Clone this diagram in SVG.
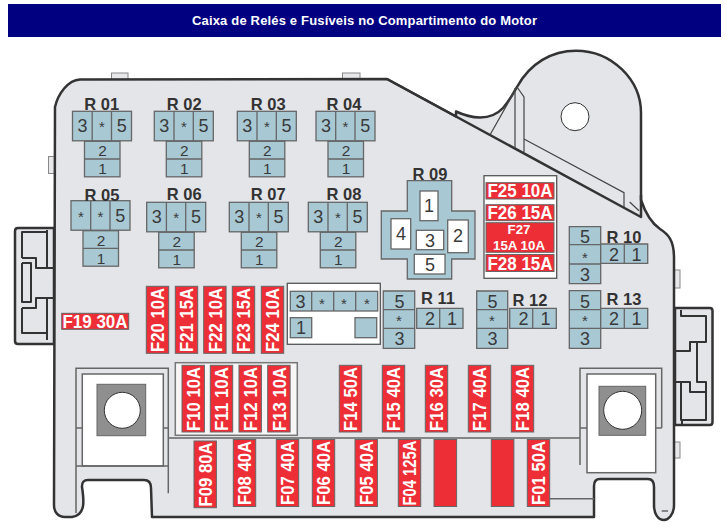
<svg xmlns="http://www.w3.org/2000/svg" width="727" height="530" viewBox="0 0 727 530">
<style>
text{font-family:"Liberation Sans",Arial,sans-serif}
.body{fill:#e4e5e9;stroke:#333;stroke-width:2.5;stroke-linejoin:round}
.edge{fill:none;stroke:#333;stroke-width:2.5;stroke-linejoin:round}
.thin{fill:none;stroke:#444;stroke-width:1}
.frame{fill:none;stroke:#666;stroke-width:1.5}
.tab{fill:#e8e8ea;stroke:#888;stroke-width:1}
.c{fill:#a8c8d4;stroke:#666;stroke-width:1.3}
.w{fill:#fff;stroke:#666;stroke-width:1.3}
.d{font-size:18px;fill:#3a3a3a;text-anchor:middle}
.d2{font-size:15.4px;fill:#3a3a3a;text-anchor:middle}
.s{font-size:15px;fill:#3a3a3a;text-anchor:middle}
.rl{font-size:16.5px;font-weight:bold;fill:#333;text-anchor:middle}
.f{fill:#ee2e36;stroke:#666;stroke-width:1}
.ft{font-size:18px;font-weight:bold;fill:#fff;text-anchor:middle}
.fv{font-size:18.5px;font-weight:bold;fill:#fff;text-anchor:middle}
.sq{fill:#8f8f8f;stroke:#666;stroke-width:1}
.hole{fill:#fff;stroke:#333;stroke-width:1}
.pw{fill:#fff;stroke:#555;stroke-width:1.3}
</style>
<defs>
<g id="relay-cells">
<rect class="c" x="0" y="0" width="59" height="29.5"/>
<path class="c" d="M19.7 0V29.5M39 0V29.5"/>
<rect class="c" x="12" y="30" width="35.5" height="35.5"/>
<path class="c" d="M12 47.7H47.5"/>
</g>
</defs>
<rect id="title-bar" x="8" y="4" width="713" height="33" fill="#000080"/>
<text id="title" x="364.5" y="25" font-size="13" font-weight="bold" fill="#fff" text-anchor="middle" textLength="345" lengthAdjust="spacing">Caixa de Relés e Fusíveis no Compartimento do Motor</text>

<g id="housing">
<rect class="tab" x="111.5" y="73" width="16.5" height="7"/>
<rect class="tab" x="342.5" y="73" width="17.5" height="7"/>
<rect class="tab" x="48.5" y="156.5" width="6" height="17"/>
<rect class="tab" x="674" y="270" width="6" height="18"/>
<rect class="tab" x="674" y="442" width="6" height="16"/>
<path class="body" d="M54 228H18Q15 228 15 231V341Q15 344 18 344H54Z"/>
<path class="body" d="M675 308H710Q712.500 308 712.500 311V422Q712.500 425 710 425H675Z"/>
<path class="body" d="M55 107C58 94 68 80 80 79.500L387 79L456 116.500L456 111.500C470 118 490 122 503 108C510 100 512 95 517 87C530 63 552 50.700 576 50.700C612 50.700 641 80 641 113V200C645 212 650 222 660 229C668 234 674 240 674 258V505C674 515 668 520 664 520C658 520 654 514 654 505V487Q654 479 648 479H600Q594 479 594 486V517H152L151 488Q151 480 144 480H88Q81.700 480 82 487C84 500 86 515 72 517H65C58 517 54 512 54 505Z"/>
<path class="edge" d="M387 79L641 217V195"/>
<path class="edge" d="M22 258V232H47M47 230V268M22 258H36V268H54M22 263H31V302H22V263M22 308H36V298H54M22 308V333H46M47 298V340" style="stroke-width:2"/>
<path class="edge" d="M681 310V316H706V342H690V351H675M697 343V382H706V392M675 382H690V392H706V420H681V382M682 420V424" style="stroke-width:2"/>
<path class="thin" d="M517 87L490.500 134M515 88V148M517 87L524 97V152M524 139L624 192.700V207M629.700 202L639 210.700" style="stroke-width:1.200"/>
<circle class="hole" cx="575" cy="116.700" r="14"/>
<path class="frame" d="M168 438H580M550 498.700H594"/>
</g>

<g id="mount-left">
<rect x="82.300" y="374" width="81" height="92" fill="#fff" stroke="#666" stroke-width="1.500"/>
<path class="frame" d="M76 513V368.300H168.300V493.300M76 428H82.300M163.300 428H168.300M76 466H168.300"/>
<rect class="sq" x="97" y="384.300" width="48.700" height="51.400"/>
<circle class="hole" cx="122.300" cy="410.300" r="18"/>
</g>
<g id="mount-right">
<rect x="587" y="374" width="68.700" height="98.700" fill="#fff" stroke="#666" stroke-width="1.500"/>
<path class="frame" d="M580 465V368.300H661.700V428M580 428H587M655.700 428H661.700M661.700 511H668"/>
<rect class="sq" x="599" y="386.300" width="46.700" height="49"/>
<circle class="hole" cx="622.700" cy="410.300" r="19"/>
</g>

<g id="R01" transform="translate(72.500 111.300)"><use href="#relay-cells"/><text class="rl" x="29.200" y="-1.300">R 01</text><text class="d" x="10" y="21">3</text><text class="s" x="29.500" y="21">*</text><text class="d" x="49.300" y="21">5</text><text class="d2" x="30" y="45">2</text><text class="d2" x="30" y="63">1</text></g>
<g id="R02" transform="translate(154.300 111.300)"><use href="#relay-cells"/><text class="rl" x="30" y="-1.300">R 02</text><text class="d" x="10" y="21">3</text><text class="s" x="29.500" y="21">*</text><text class="d" x="49.300" y="21">5</text><text class="d2" x="30" y="45">2</text><text class="d2" x="30" y="63">1</text></g>
<g id="R03" transform="translate(237.300 111.300)"><use href="#relay-cells"/><text class="rl" x="31" y="-1.300">R 03</text><text class="d" x="10" y="21">3</text><text class="s" x="29.500" y="21">*</text><text class="d" x="49.300" y="21">5</text><text class="d2" x="30" y="45">2</text><text class="d2" x="30" y="63">1</text></g>
<g id="R04" transform="translate(316 111.300)"><use href="#relay-cells"/><text class="rl" x="28" y="-1.300">R 04</text><text class="d" x="10" y="21">3</text><text class="s" x="29.500" y="21">*</text><text class="d" x="49.300" y="21">5</text><text class="d2" x="30" y="45">2</text><text class="d2" x="30" y="63">1</text></g>
<g id="R05" transform="translate(71 200.700)"><use href="#relay-cells"/><text class="rl" x="31" y="0.300">R 05</text><text class="s" x="10" y="21">*</text><text class="s" x="29.500" y="21">*</text><text class="d" x="49.300" y="21">5</text><text class="d2" x="30" y="45">2</text><text class="d2" x="30" y="63">1</text></g>
<g id="R06" transform="translate(146.700 202.300)"><use href="#relay-cells"/><text class="rl" x="37.600" y="-2.300">R 06</text><text class="d" x="10" y="21">3</text><text class="s" x="29.500" y="21">*</text><text class="d" x="49.300" y="21">5</text><text class="d2" x="30" y="45">2</text><text class="d2" x="30" y="63">1</text></g>
<g id="R07" transform="translate(229.300 202.300)"><use href="#relay-cells"/><text class="rl" x="39" y="-2.300">R 07</text><text class="d" x="10" y="21">3</text><text class="s" x="29.500" y="21">*</text><text class="d" x="49.300" y="21">5</text><text class="d2" x="30" y="45">2</text><text class="d2" x="30" y="63">1</text></g>
<g id="R08" transform="translate(308.300 202.300)"><use href="#relay-cells"/><text class="rl" x="35.700" y="-2.300">R 08</text><text class="d" x="10" y="21">3</text><text class="s" x="29.500" y="21">*</text><text class="d" x="49.300" y="21">5</text><text class="d2" x="30" y="45">2</text><text class="d2" x="30" y="63">1</text></g>

<g id="R09">
<text class="rl" x="430" y="180">R 09</text>
<path class="c" d="M407.300 180.700H451.700V211H475V259H451.700V279H407.300V259H381.300V211H407.300Z"/>
<rect class="w" x="420" y="191" width="18" height="29.700"/>
<rect class="w" x="391" y="218.700" width="19.700" height="30.300"/>
<rect class="w" x="447.700" y="220" width="20.600" height="32.700"/>
<rect class="w" x="416.300" y="230.300" width="27.400" height="19.400"/>
<rect class="w" x="414.300" y="254.300" width="30.700" height="19.700"/>
<text class="d" x="429" y="212">1</text><text class="d" x="401" y="240">4</text><text class="d" x="458" y="242">2</text><text class="d" x="430" y="247">3</text><text class="d" x="430" y="271">5</text>
</g>

<g id="R10">
<text class="rl" x="624" y="242.700">R 10</text>
<path class="c" d="M569.300 226.700H600.700V283.700H569.300Z"/><path class="c" d="M569.300 244.700H600.700M569.300 264H600.700"/>
<path class="c" d="M600.700 244H647.700V263.300H600.700Z"/><path class="c" d="M624.300 244V263.300"/>
<text class="d" x="585" y="243">5</text><text class="s" x="585" y="263">*</text><text class="d" x="585" y="281">3</text><text class="d" x="614" y="260.500">2</text><text class="d" x="636.500" y="261">1</text>
</g>
<g id="F-R-panel">
<rect class="pw" x="287.300" y="283.300" width="93" height="61"/>
<rect class="c" x="290.300" y="291.300" width="87.400" height="19.700"/><path class="c" d="M311.700 291.300V311M333.700 291.300V311M355.700 291.300V311"/>
<rect class="c" x="290.300" y="317.700" width="21.400" height="20"/><rect class="c" x="355" y="317.700" width="21.700" height="20"/>
<text class="d" x="300.500" y="308">3</text><text class="s" x="322" y="309">*</text><text class="s" x="344" y="309">*</text><text class="s" x="367" y="309">*</text><text class="d" x="301" y="334">1</text>
</g>
<g id="R11">
<text class="rl" x="438" y="304.300">R 11</text>
<path class="c" d="M383.300 291H414.700V348.300H383.300Z"/><path class="c" d="M383.300 309.700H414.700M383.300 328.300H414.700"/>
<path class="c" d="M416.700 308.300H463V328.300H416.700Z"/><path class="c" d="M439.700 308.300V328.300"/>
<text class="d" x="399.500" y="307.500">5</text><text class="s" x="399" y="326">*</text><text class="d" x="399.500" y="344.500">3</text><text class="d" x="430" y="325">2</text><text class="d" x="452" y="325">1</text>
</g>
<g id="R12">
<text class="rl" x="530" y="305.700">R 12</text>
<path class="c" d="M476.700 291H507.700V348.300H476.700Z"/><path class="c" d="M476.700 309.700H507.700M476.700 328.300H507.700"/>
<path class="c" d="M509.700 308.300H556.300V328.300H509.700Z"/><path class="c" d="M532.700 308.300V328.300"/>
<text class="d" x="492.500" y="307.500">5</text><text class="s" x="492" y="326">*</text><text class="d" x="492.500" y="344.500">3</text><text class="d" x="523.500" y="325">2</text><text class="d" x="545.500" y="325">1</text>
</g>
<g id="R13">
<text class="rl" x="624" y="305">R 13</text>
<path class="c" d="M569.300 290.700H600.700V348.300H569.300Z"/><path class="c" d="M569.300 309.700H600.700M569.300 328.300H600.700"/>
<path class="c" d="M600.700 308.300H647.700V328.300H600.700Z"/><path class="c" d="M624.300 308.300V328.300"/>
<text class="d" x="585" y="307.500">5</text><text class="s" x="585" y="326">*</text><text class="d" x="585" y="344.500">3</text><text class="d" x="614" y="325">2</text><text class="d" x="636.500" y="325">1</text>
</g>

<g id="fuse-panel-top">
<rect class="pw" x="484" y="175.700" width="72.700" height="102.600" stroke="#888"/>
<g id="F25"><rect class="f" x="486" y="182.700" width="68" height="16.300"/><text class="ft" x="520" y="197" textLength="65" lengthAdjust="spacingAndGlyphs">F25 10A</text></g>
<g id="F26"><rect class="f" x="486" y="204.700" width="68" height="16"/><text class="ft" x="520" y="219" textLength="65" lengthAdjust="spacingAndGlyphs">F26 15A</text></g>
<g id="F27"><rect class="f" x="486" y="222.700" width="68" height="29.600"/><text x="519" y="234" font-size="13.300" font-weight="bold" fill="#fff" text-anchor="middle">F27</text><text x="519" y="250" font-size="13.300" font-weight="bold" fill="#fff" text-anchor="middle">15A 10A</text></g>
<g id="F28"><rect class="f" x="486" y="254.500" width="68" height="17"/><text class="ft" x="520" y="269.500" textLength="65" lengthAdjust="spacingAndGlyphs">F28 15A</text></g>
</g>

<g id="F19"><rect class="f" x="61.700" y="313.300" width="67" height="16"/><text class="ft" x="95" y="327.500" textLength="65" lengthAdjust="spacingAndGlyphs">F19 30A</text></g>
<g id="F20"><rect class="f" x="146.300" y="286.300" width="22.400" height="67"/><text class="fv" transform="translate(164 320) rotate(-90)" textLength="64" lengthAdjust="spacingAndGlyphs">F20 10A</text></g>
<g id="F21"><rect class="f" x="175.300" y="286.300" width="22.400" height="67"/><text class="fv" transform="translate(193 320) rotate(-90)" textLength="64" lengthAdjust="spacingAndGlyphs">F21 15A</text></g>
<g id="F22"><rect class="f" x="203.700" y="286.300" width="22.400" height="67"/><text class="fv" transform="translate(221.500 320) rotate(-90)" textLength="64" lengthAdjust="spacingAndGlyphs">F22 10A</text></g>
<g id="F23"><rect class="f" x="232.300" y="286.300" width="22.400" height="67"/><text class="fv" transform="translate(250 320) rotate(-90)" textLength="64" lengthAdjust="spacingAndGlyphs">F23 15A</text></g>
<g id="F24"><rect class="f" x="261.300" y="286.300" width="22.400" height="67"/><text class="fv" transform="translate(279 320) rotate(-90)" textLength="64" lengthAdjust="spacingAndGlyphs">F24 10A</text></g>

<rect id="fuse-panel-mid" x="175.300" y="362.700" width="122" height="72.600" fill="#f6f6f6" stroke="#777" stroke-width="1.500"/>
<g id="F10"><rect class="f" x="182" y="365.300" width="22.400" height="66.700"/><text class="fv" transform="translate(199.800 399) rotate(-90)" textLength="64" lengthAdjust="spacingAndGlyphs">F10 10A</text></g>
<g id="F11"><rect class="f" x="210.300" y="365.300" width="22.400" height="66.700"/><text class="fv" transform="translate(228.100 399) rotate(-90)" textLength="64" lengthAdjust="spacingAndGlyphs">F11 10A</text></g>
<g id="F12"><rect class="f" x="239" y="365.300" width="22.400" height="66.700"/><text class="fv" transform="translate(256.800 399) rotate(-90)" textLength="64" lengthAdjust="spacingAndGlyphs">F12 10A</text></g>
<g id="F13"><rect class="f" x="267.700" y="365.300" width="22.400" height="66.700"/><text class="fv" transform="translate(285.500 399) rotate(-90)" textLength="64" lengthAdjust="spacingAndGlyphs">F13 10A</text></g>
<g id="F14"><rect class="f" x="339.300" y="365.300" width="22.400" height="66.700"/><text class="fv" transform="translate(357.100 399) rotate(-90)" textLength="64" lengthAdjust="spacingAndGlyphs">F14 50A</text></g>
<g id="F15"><rect class="f" x="382.300" y="365.300" width="22.400" height="66.700"/><text class="fv" transform="translate(400.100 399) rotate(-90)" textLength="64" lengthAdjust="spacingAndGlyphs">F15 40A</text></g>
<g id="F16"><rect class="f" x="425.300" y="365.300" width="22.400" height="66.700"/><text class="fv" transform="translate(443.100 399) rotate(-90)" textLength="64" lengthAdjust="spacingAndGlyphs">F16 30A</text></g>
<g id="F17"><rect class="f" x="468.300" y="365.300" width="22.400" height="66.700"/><text class="fv" transform="translate(486.100 399) rotate(-90)" textLength="64" lengthAdjust="spacingAndGlyphs">F17 40A</text></g>
<g id="F18"><rect class="f" x="511.300" y="365.300" width="22.400" height="66.700"/><text class="fv" transform="translate(529.100 399) rotate(-90)" textLength="64" lengthAdjust="spacingAndGlyphs">F18 40A</text></g>

<g id="F09"><rect class="f" x="194" y="441" width="22.400" height="66.700"/><text class="fv" transform="translate(211.800 474.500) rotate(-90)" textLength="64" lengthAdjust="spacingAndGlyphs">F09 80A</text></g>
<g id="F08"><rect class="f" x="233.300" y="439.500" width="22.400" height="67"/><text class="fv" transform="translate(251.100 473) rotate(-90)" textLength="64" lengthAdjust="spacingAndGlyphs">F08 40A</text></g>
<g id="F07"><rect class="f" x="276.300" y="439.500" width="22.400" height="67"/><text class="fv" transform="translate(294.100 473) rotate(-90)" textLength="64" lengthAdjust="spacingAndGlyphs">F07 40A</text></g>
<g id="F06"><rect class="f" x="312.300" y="439.500" width="22.400" height="67"/><text class="fv" transform="translate(330.100 473) rotate(-90)" textLength="64" lengthAdjust="spacingAndGlyphs">F06 40A</text></g>
<g id="F05"><rect class="f" x="355" y="439.500" width="22.400" height="67"/><text class="fv" transform="translate(372.800 473) rotate(-90)" textLength="64" lengthAdjust="spacingAndGlyphs">F05 40A</text></g>
<g id="F04"><rect class="f" x="398.300" y="439.500" width="22.400" height="67"/><text class="fv" transform="translate(416.100 473) rotate(-90)" textLength="65" lengthAdjust="spacingAndGlyphs">F04 125A</text></g>
<rect id="F03" class="f" x="434" y="439.500" width="22.600" height="67" stroke="none"/>
<rect id="F02" class="f" x="491.300" y="439.500" width="22.600" height="67" stroke="none"/>
<g id="F01"><rect class="f" x="527.300" y="439.500" width="22.400" height="67"/><text class="fv" transform="translate(545.100 473) rotate(-90)" textLength="64" lengthAdjust="spacingAndGlyphs">F01 50A</text></g>
</svg>
